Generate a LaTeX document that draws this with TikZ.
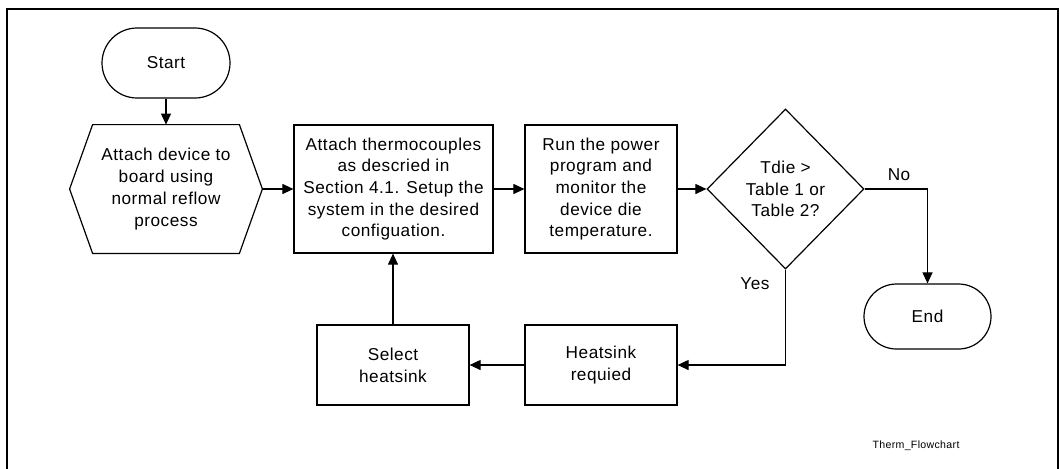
\documentclass[tikz,border=0pt]{standalone}
\usepackage{fontspec}
\setmainfont[LetterSpace=3]{Liberation Sans}
\usetikzlibrary{arrows.meta,shapes.geometric,calc}

\begin{document}
\begin{tikzpicture}[x=0.5pt, y=-0.5pt,
  every node/.style={font=\fontsize{8.6}{10.85}\selectfont, align=center, inner sep=0pt},
  flow/.style={line width=0.55pt, -{Triangle[length=5.5pt,width=5pt]}},
  stepbox/.style={draw, line width=0.6pt, rectangle},
  term/.style={draw, line width=0.6pt, rectangle}]

\useasboundingbox (0,0) rectangle (1060,468);
\draw[line width=1.4pt] (7,480) -- (7,9) -- (1058,9) -- (1058,480);

\node[term, minimum width=64pt, minimum height=35pt, rounded corners=17.5pt] (start) at (166,63) {Start};
\node[minimum width=73pt, minimum height=64pt] (attach) at (166,189) {Attach device to\\board using\\normal reflow\\process};
\coordinate (attach e) at ($(attach.east)+(23,0)$);
\coordinate (attach w) at ($(attach.west)+(-23,0)$);
\draw[line width=0.6pt] (attach.north west) -- (attach.north east) -- (attach e) -- (attach.south east) -- (attach.south west) -- (attach w) -- cycle;
\node[stepbox, minimum width=99.5pt, minimum height=64pt] (setup) at (393.5,189) {Attach thermocouples\\as descried in\\Section 4.1. Setup the\\system in the desired\\configuation.};
\node[stepbox, minimum width=76pt, minimum height=64pt] (run) at (601,189) {Run the power\\program and\\monitor the\\device die\\temperature.};
\node[draw, diamond, aspect=1, line width=0.6pt, minimum width=78.5pt, minimum height=80pt] (test) at (785.5,189) {Tdie >\\Table 1 or\\Table 2?};
\node[term, minimum width=63.5pt, minimum height=32.5pt, rounded corners=16.25pt] (end) at (927.5,316.5) {End};
\node[stepbox, minimum width=76pt, minimum height=40pt] (need) at (601,365) {Heatsink\\requied};
\node[stepbox, minimum width=76pt, minimum height=40pt] (select) at (393,365) {Select\\heatsink};

\node (no) at (899,175) {No};
\node (yes) at (755,284) {Yes};
\node[font=\fontsize{5.3}{6}\selectfont] (tag) at (916,446) {Therm\_Flowchart};

\draw[flow] (start) -- (attach);
\draw[flow] (attach e) -- (setup);
\draw[flow] (setup) -- (run);
\draw[flow] (run) -- (test);
\draw[flow] (test) -| (end);
\draw[flow] (test) |- (need);
\draw[flow] (need) -- (select);
\draw[flow] (select.north) -- (select.north |- setup.south);

\end{tikzpicture}
\end{document}
